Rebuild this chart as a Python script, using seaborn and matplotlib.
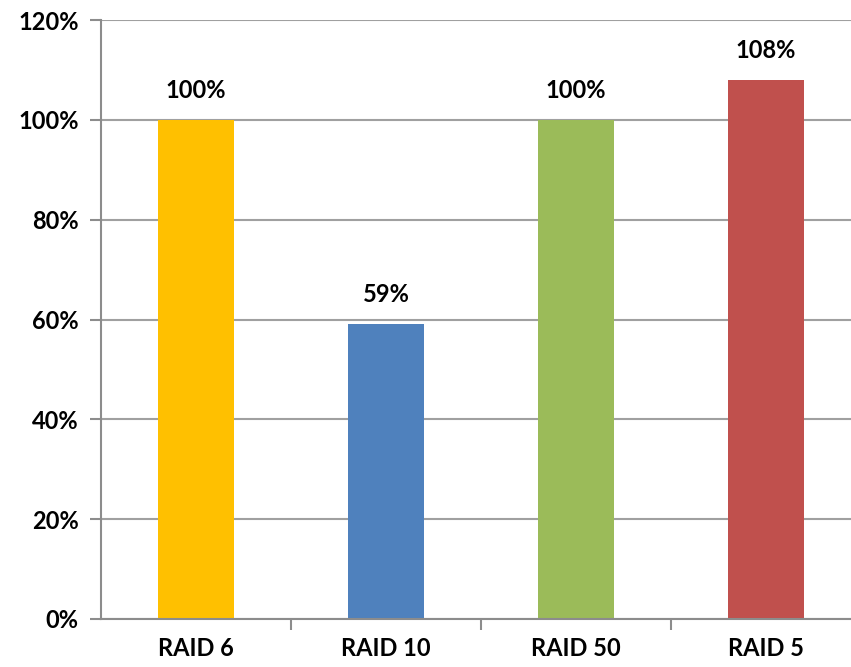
import pandas as pd
import matplotlib.pyplot as plt
import seaborn as sns
from matplotlib.ticker import MultipleLocator, FixedLocator

# ==========================================
# DATA
# ==========================================
raid_levels = ["RAID 6", "RAID 10", "RAID 50", "RAID 5"]
relative_perf = [100, 59, 100, 108]
bar_colors = ["#FFC000", "#4F81BD", "#9BBB59", "#C0504D"]

df = pd.DataFrame({"RAID": raid_levels, "Value": relative_perf})

# ==========================================
# PLOT
# ==========================================
sns.set_style("white")
plt.rcParams["font.family"] = ["Lato", "DejaVu Sans"]
plt.rcParams["text.color"] = "black"
plt.rcParams["xtick.color"] = "black"
plt.rcParams["ytick.color"] = "black"

fig = plt.figure(figsize=(8.51, 6.67), dpi=100)
ax = fig.add_axes([101 / 851, 48 / 667, 760 / 851, 599 / 667])

sns.barplot(
    data=df,
    x="RAID",
    y="Value",
    hue="RAID",
    palette=bar_colors,
    width=0.4,
    legend=False,
    saturation=1,
    linewidth=0,
    ax=ax
)

for container in ax.containers:
    labels = ax.bar_label(
        container,
        fmt="%d%%",
        padding=13,
        fontsize=17,
        color="black"
    )
    for t in labels:
        t.set_fontweight("bold")

ax.set_ylim(0, 120)
ax.set_xlim(-0.5, 3.5)
ax.yaxis.set_major_locator(MultipleLocator(20))
ax.set_yticklabels([f"{int(v)}%" for v in ax.get_yticks()])

ax.grid(axis="y", color="#A0A0A0", linewidth=1.5)
ax.set_axisbelow(True)

ax.set_xlabel("")
ax.set_ylabel("")

for side in ["top", "right"]:
    ax.spines[side].set_visible(False)
for side in ["left", "bottom"]:
    ax.spines[side].set_color("#8C8C8C")
    ax.spines[side].set_linewidth(1.5)

# boundary ticks between categories
ax.xaxis.set_minor_locator(FixedLocator([0.5, 1.5, 2.5, 3.5]))
ax.tick_params(axis="x", which="major", length=0, pad=13,
               labelsize=17, labelcolor="black")
ax.tick_params(axis="x", which="minor", length=8, width=1.5,
               color="#8C8C8C", direction="out", bottom=True)
ax.tick_params(axis="y", length=8, width=1.5, color="#8C8C8C",
               direction="out", left=True, pad=8, labelsize=17,
               labelcolor="black")

for lbl in ax.get_xticklabels() + ax.get_yticklabels():
    lbl.set_fontweight("bold")

fig.savefig("out.png", dpi=100)
